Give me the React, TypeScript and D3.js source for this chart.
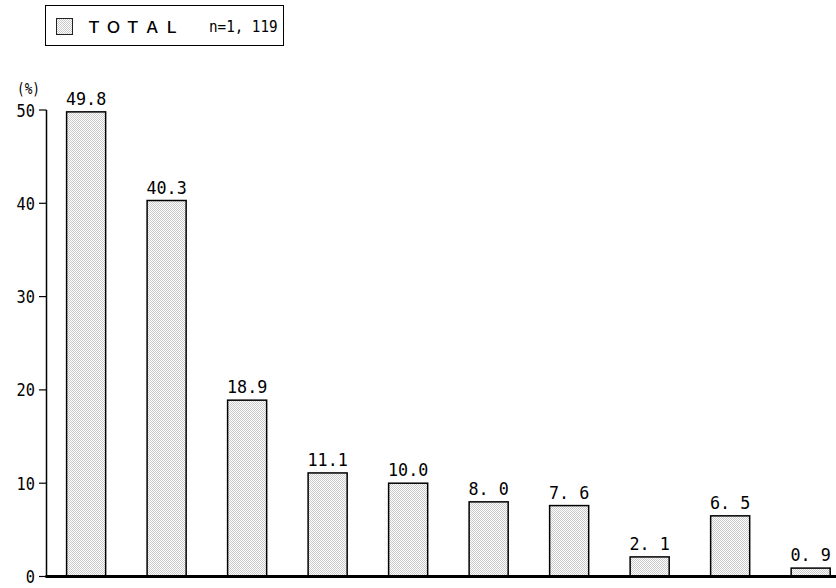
import React from "react";
import * as d3 from "d3";

const categories = ["c1", "c2", "c3", "c4", "c5", "c6", "c7", "c8", "c9", "c10"];
const values = [49.8, 40.3, 18.9, 11.1, 10.0, 8.0, 7.6, 2.1, 6.5, 0.9];
const valueLabels = ["49.8", "40.3", "18.9", "11.1", "10.0", "8. 0", "7. 6", "2. 1", "6. 5", "0. 9"];
const yTicks = [0, 10, 20, 30, 40, 50];
const seriesName = "ＴＯＴＡＬ";
const sampleText = "n=1, 119";

export default function App() {
  const W = 836, H = 588;
  const axisX = 46.5;
  const y = d3.scaleLinear().domain([0, 50]).range([576.5, 110]);
  const x = d3
    .scaleBand<string>()
    .domain(categories)
    .range([46, 836])
    .paddingInner(0.515)
    .paddingOuter(0.164)
    .align(0.78);
  const bw = x.bandwidth();
  const mono = "'DejaVu Sans Mono', 'Liberation Mono', monospace";

  return (
    <svg
      width={W}
      height={H}
      style={{ position: "absolute", left: 0, top: 0, background: "#fff" }}
      xmlns="http://www.w3.org/2000/svg"
    >
      <defs>
        <pattern id="dots" width="2" height="2" patternUnits="userSpaceOnUse">
          <rect width="2" height="2" fill="#ffffff" />
          <rect x="0" y="0" width="1" height="1" fill="#cacaca" />
          <rect x="1" y="1" width="1" height="1" fill="#cacaca" />
        </pattern>
      </defs>
      <rect width={W} height={H} fill="#fff" />

      {/* legend */}
      <rect x={45.5} y={5.5} width={238} height={40} fill="none" stroke="#000" strokeWidth={1} />
      <rect x={56.5} y={18.5} width={16} height={16} fill="url(#dots)" stroke="#222" strokeWidth={1} />
      <text
        x={86}
        y={32.5}
        fontFamily="'Noto Sans CJK JP', sans-serif"
        fontSize={16}
        fontWeight={500}
        letterSpacing={3.4}
        fill="#000"
      >
        {seriesName}
      </text>
      <text
        transform="translate(209,31.5) scale(0.92,1)"
        fontFamily={mono}
        fontSize={15.5}
        fill="#000"
      >
        {sampleText}
      </text>

      {/* y axis */}
      <line x1={axisX} x2={axisX} y1={y(50)} y2={y(0)} stroke="#000" strokeWidth={1.5} />
      {yTicks.map((t) => (
        <g key={t}>
          <line x1={39} x2={axisX} y1={y(t)} y2={y(t)} stroke="#000" strokeWidth={1.2} />
          <text
            transform={`translate(35,${y(t) + 6.5}) scale(0.85,1)`}
            textAnchor="end"
            fontFamily={mono}
            fontSize={18}
            fill="#000"
          >
            {t}
          </text>
        </g>
      ))}
      <text
        transform="translate(17,94) scale(0.85,1)"
        fontFamily={mono}
        fontSize={15}
        fill="#000"
      >
        (%)
      </text>

      {/* bars */}
      {categories.map((c, i) => {
        const x0 = x(c) as number;
        const top = y(values[i]);
        return (
          <g key={c}>
            <rect
              x={x0}
              y={top}
              width={bw}
              height={y(0) - top}
              fill="url(#dots)"
              stroke="#000"
              strokeWidth={1.5}
            />
            <text
              transform={`translate(${x0 + bw / 2},${top - 7}) scale(0.93,1)`}
              textAnchor="middle"
              fontFamily={mono}
              fontSize={18}
              fill="#000"
            >
              {valueLabels[i]}
            </text>
          </g>
        );
      })}

      {/* baseline */}
      <line x1={axisX - 1} x2={836} y1={y(0)} y2={y(0)} stroke="#000" strokeWidth={3} />
    </svg>
  );
}
